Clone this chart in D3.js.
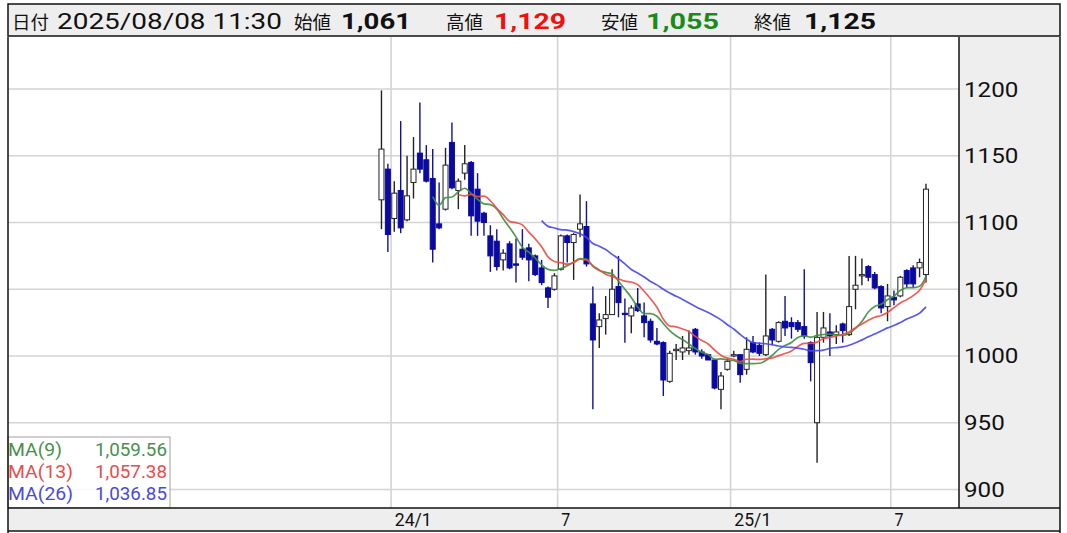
<!DOCTYPE html>
<html><head><meta charset="utf-8">
<script src="https://cdn.jsdelivr.net/npm/d3@7"></script>
<style>
html,body{margin:0;padding:0;background:#fff;}
svg{display:block;}
text{font-family:Roboto,"Noto Sans CJK JP",sans-serif;}
.jp{font-family:"Noto Sans CJK JP",sans-serif;}
</style></head>
<body><svg id="c" width="1067" height="533"></svg>
<script>
// ---- data (weekly candles, last trading day of each week) ----
const dates = ["2023-12-22","2023-12-29",
"2024-01-05","2024-01-12","2024-01-19","2024-01-26","2024-02-02","2024-02-09","2024-02-16","2024-02-23",
"2024-03-01","2024-03-08","2024-03-15","2024-03-22","2024-03-29","2024-04-05","2024-04-12","2024-04-19","2024-04-26",
"2024-05-03","2024-05-10","2024-05-17","2024-05-24","2024-05-31","2024-06-07","2024-06-14","2024-06-21","2024-06-28",
"2024-07-05","2024-07-12","2024-07-19","2024-07-26","2024-08-02","2024-08-09","2024-08-16","2024-08-23","2024-08-30",
"2024-09-06","2024-09-13","2024-09-20","2024-09-27","2024-10-04","2024-10-11","2024-10-18","2024-10-25",
"2024-11-01","2024-11-08","2024-11-15","2024-11-22","2024-11-29","2024-12-06","2024-12-13","2024-12-20","2024-12-27","2024-12-30",
"2025-01-10","2025-01-17","2025-01-24","2025-01-31","2025-02-07","2025-02-14","2025-02-21","2025-02-28",
"2025-03-07","2025-03-14","2025-03-21","2025-03-28","2025-04-04","2025-04-11","2025-04-18","2025-04-25",
"2025-05-02","2025-05-09","2025-05-16","2025-05-23","2025-05-30","2025-06-06","2025-06-13","2025-06-20","2025-06-27",
"2025-07-04","2025-07-11","2025-07-18","2025-07-25","2025-08-01","2025-08-08"];
const opens  = [1117,1140,1103,1124,1102,1130,1152,1147,1133,1099,1110,1160,1124,1137,1145,1125,1107,1090,1086,1072,1084,1069,1080,1081,1075,1066,1051,1050,1065,1090,1085,1095,1097,1039,1022,1028,1031,1052,1032,1030,1039,1030,1026,1011,1010,981,1004,1003,1004,1020,1003,1001,997,975,990,1000,1001,990,1010,1008,1001,1020,1011,1026,1025,1025,1022,1010,950,1014,1018,1016,1024,1016,1050,1060,1067,1061,1052,1037,1044,1045,1064,1066,1066,1061];
const highs  = [1199,1144,1131,1176,1150,1164,1190,1158,1155,1130,1156,1175,1133,1158,1146,1137,1108,1098,1095,1080,1086,1088,1095,1084,1076,1072,1052,1062,1091,1091,1092,1121,1116,1052,1032,1045,1065,1075,1043,1038,1051,1040,1028,1021,1011,1004,1009,1015,1019,1021,1005,1001,998,988,998,1004,1001,1014,1015,1010,1061,1021,1026,1045,1029,1027,1065,1011,1033,1033,1032,1023,1025,1075,1075,1073,1068,1063,1053,1054,1049,1060,1065,1068,1073,1129];
const lows   = [1095,1078,1093,1092,1101,1118,1137,1130,1070,1095,1109,1125,1110,1132,1090,1090,1090,1063,1064,1064,1065,1055,1072,1056,1060,1053,1036,1049,1064,1070,1057,1089,1067,960,1006,1016,1031,1029,1010,1017,1033,1014,1010,1008,970,980,997,997,1001,1001,998,997,975,960,989,999,980,986,1002,1000,1000,1008,1010,1015,1013,1018,1013,981,920,1010,1000,1009,1010,1015,1035,1053,1056,1050,1032,1026,1038,1044,1051,1051,1059,1055];
const closes = [1155,1091,1122,1096,1120,1140,1140,1131,1080,1096,1143,1126,1131,1144,1105,1101,1100,1075,1067,1077,1066,1068,1074,1072,1061,1055,1044,1060,1090,1085,1091,1099,1069,1012,1027,1031,1050,1040,1031,1036,1034,1025,1012,1009,982,1002,1005,1006,1006,1003,1000,997,976,985,996,1001,986,1005,1003,1002,1015,1012,1025,1021,1022,1020,1015,995,1014,1021,1015,1018,1019,1037,1053,1061,1059,1051,1036,1045,1042,1059,1054,1054,1070,1125];

const maPeriods = [9, 13, 26];
const maNames = ["MA(9)", "MA(13)", "MA(26)"];
const maLegendValues = ["1,059.56", "1,057.38", "1,036.85"];
const maColors = ["#3f8f3f", "#ee4b45", "#4848e8"];
const maTextColors = ["#4a8f4a", "#e84c4c", "#4a4ad8"];

const yTicks = [900, 950, 1000, 1050, 1100, 1150, 1200];
const xTickLabels = ["24/1", "7", "25/1", "7"];
const xTickDates = ["2024-01-05", "2024-07-05", "2025-01-10", "2025-07-04"];

const headerLabels = ["日付", "始値", "高値", "安値", "終値"];
const headerValues = ["2025/08/08 11:30", "1,061", "1,129", "1,055", "1,125"];
const headerColors = ["#111", "#111", "#f01010", "#1a8a1a", "#111"];

// ---- layout ----
const W = 1067, H = 533;
const L = 8, R = 959, T = 37, B = 508, AX = 1060;
const svg = d3.select("#c");

const x = d3.scaleLinear().domain([-58.3, 90.0]).range([L, R - 1]);
const y = d3.scaleLinear().domain([886.1, 1239]).range([B, T]);

const candles = dates.map((d, i) => ({i, d, o: opens[i], h: highs[i], l: lows[i], c: closes[i]}));

// header
svg.append("rect").attr("x", L).attr("y", 4).attr("width", AX - L).attr("height", 32)
  .attr("fill", "#eeeeee").attr("stroke", "#111").attr("stroke-width", 1.5);
const hLabelX = [12, 294, 446, 601, 754];
const hValX = [57, 341, 494, 646, 804];
const hValW = [225, 70, 72, 73, 72];
headerLabels.forEach((lab, k) => {
  svg.append("text").attr("class", "jp").attr("x", hLabelX[k]).attr("y", 28.5)
    .attr("font-size", 18).attr("fill", "#111")
    .attr("textLength", 37).attr("lengthAdjust", "spacingAndGlyphs").text(lab);
  svg.append("text").attr("x", hValX[k]).attr("y", 29)
    .attr("font-size", 22).attr("font-weight", k === 0 ? "normal" : "bold")
    .attr("fill", headerColors[k])
    .attr("textLength", hValW[k]).attr("lengthAdjust", "spacingAndGlyphs").text(headerValues[k]);
});

// plot background & clip
svg.append("rect").attr("x", L).attr("y", T).attr("width", R - L).attr("height", B - T).attr("fill", "#fff");
svg.append("clipPath").attr("id", "pc").append("rect").attr("x", L).attr("y", T).attr("width", R - L).attr("height", B - T);
const plot = svg.append("g").attr("clip-path", "url(#pc)");

// grid
plot.selectAll("line.hg").data(yTicks).join("line")
  .attr("x1", L).attr("x2", R).attr("y1", d => y(d)).attr("y2", d => y(d))
  .attr("stroke", "#d4d4d4").attr("stroke-width", 1.6);
const tickIdx = xTickDates.map(d => dates.indexOf(d));
plot.selectAll("line.vg").data(tickIdx).join("line")
  .attr("x1", d => x(d - 0.5)).attr("x2", d => x(d - 0.5)).attr("y1", T).attr("y2", B)
  .attr("stroke", "#d4d4d4").attr("stroke-width", 1.6);

// candles
const bw = 5;
const up = d => d.c >= d.o;
const cg = plot.append("g");
cg.selectAll("line.wick").data(candles).join("line")
  .attr("x1", d => x(d.i)).attr("x2", d => x(d.i))
  .attr("y1", d => y(d.h)).attr("y2", d => y(d.l))
  .attr("stroke", d => up(d) ? "#222" : "#10109a").attr("stroke-width", 1.4);
cg.selectAll("rect.body").data(candles).join("rect")
  .attr("x", d => x(d.i) - bw / 2)
  .attr("y", d => y(Math.max(d.o, d.c)))
  .attr("width", bw)
  .attr("height", d => Math.max(1, Math.abs(y(d.o) - y(d.c))))
  .attr("fill", d => up(d) ? "#fff" : "#0a0aa0")
  .attr("stroke", d => up(d) ? "#222" : "#0a0aa0")
  .attr("stroke-width", 1);

// moving averages
maPeriods.forEach((p, k) => {
  const pts = [];
  for (let i = p - 1; i < closes.length; i++) {
    pts.push([i, d3.mean(closes.slice(i - p + 1, i + 1))]);
  }
  plot.append("path").datum(pts)
    .attr("d", d3.line().x(d => x(d[0])).y(d => y(d[1])).curve(d3.curveMonotoneX))
    .attr("fill", "none").attr("stroke", maColors[k]).attr("stroke-width", 1.7).attr("opacity", 0.9);
});

// legend
const lg = svg.append("g");
lg.append("rect").attr("x", 8).attr("y", 437).attr("width", 162).attr("height", 71)
  .attr("fill", "#fff").attr("fill-opacity", 0.85).attr("stroke", "#a0a0a0").attr("stroke-width", 1);
const nameW = [54, 65, 65];
maNames.forEach((n, k) => {
  lg.append("text").attr("x", 8).attr("y", 456 + k * 22).attr("font-size", 18).attr("fill", maTextColors[k])
    .attr("textLength", nameW[k]).attr("lengthAdjust", "spacingAndGlyphs").text(n);
  lg.append("text").attr("x", 95).attr("y", 456 + k * 22).attr("font-size", 18)
    .attr("fill", maTextColors[k]).attr("textLength", 72).attr("lengthAdjust", "spacingAndGlyphs")
    .text(maLegendValues[k]);
});

// right axis panel
svg.append("rect").attr("x", R).attr("y", T).attr("width", AX - R).attr("height", B - T).attr("fill", "#eeeeee");
const ya = d3.axisRight(y).tickValues(yTicks).tickSize(0).tickPadding(5).tickFormat(d3.format("d"));
const yag = svg.append("g").attr("transform", `translate(${R},0)`).call(ya);
yag.select(".domain").remove();
yag.selectAll("text").attr("font-size", 20).attr("fill", "#111").attr("font-family", "Roboto, sans-serif")
  .attr("dy", "0.35em")
  .attr("textLength", d => String(d).length * 13.6).attr("lengthAdjust", "spacingAndGlyphs");

// bottom axis band
svg.append("rect").attr("x", L).attr("y", B).attr("width", AX - L).attr("height", 22).attr("fill", "#eeeeee");
const xa = d3.axisBottom(x).tickValues(tickIdx).tickSize(0).tickPadding(0)
  .tickFormat((d, k) => xTickLabels[k]);
const xag = svg.append("g").attr("transform", `translate(0,${B})`).call(xa);
xag.select(".domain").remove();
xag.selectAll(".tick text").attr("font-size", 18).attr("fill", "#111").attr("text-anchor", "start")
  .attr("dy", 0).attr("y", 18).attr("x", 0).attr("font-family", "Roboto, sans-serif")
  .attr("textLength", (d, k) => xTickLabels[k].length > 1 ? 37 : 9).attr("lengthAdjust", "spacingAndGlyphs");

// frame lines
const fr = svg.append("g").attr("stroke", "#111").attr("stroke-width", 1.5).attr("fill", "none");
fr.append("line").attr("x1", L).attr("x2", L).attr("y1", T).attr("y2", 533);
fr.append("line").attr("x1", R).attr("x2", R).attr("y1", T).attr("y2", B);
fr.append("line").attr("x1", AX).attr("x2", AX).attr("y1", T).attr("y2", 533);
fr.append("line").attr("x1", L).attr("x2", AX).attr("y1", B).attr("y2", B);
fr.append("line").attr("x1", L).attr("x2", AX).attr("y1", 531).attr("y2", 531);
</script></body></html>
